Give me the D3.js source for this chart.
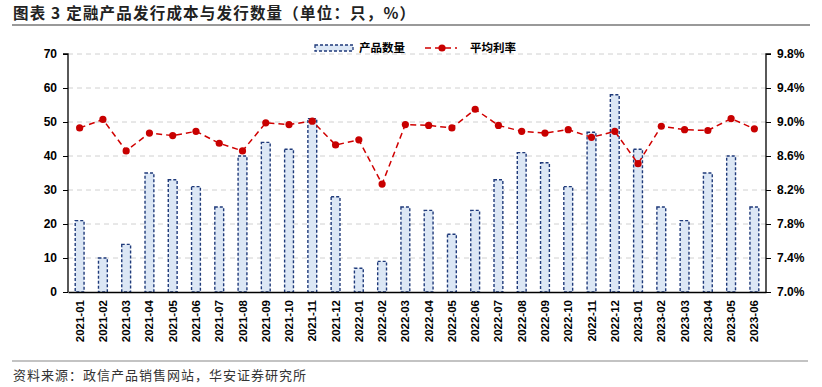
<!DOCTYPE html>
<html>
<head>
<meta charset="utf-8">
<script src="https://cdn.jsdelivr.net/npm/d3@7/dist/d3.min.js"></script>
<style>
  body { margin: 0; background: #fff; }
  svg { font-family: "Liberation Sans", Arial, sans-serif; }
</style>
</head>
<body>
<svg id="chart" width="822" height="387"></svg>
<script>
const months = ["2021-01","2021-02","2021-03","2021-04","2021-05","2021-06","2021-07","2021-08","2021-09","2021-10","2021-11","2021-12",
  "2022-01","2022-02","2022-03","2022-04","2022-05","2022-06","2022-07","2022-08","2022-09","2022-10","2022-11","2022-12",
  "2023-01","2023-02","2023-03","2023-04","2023-05","2023-06"];
const counts = [21,10,14,35,33,31,25,40,44,42,51,28,7,9,25,24,17,24,33,41,38,31,47,58,42,25,21,35,40,25];
const rates = [8.93,9.03,8.66,8.87,8.84,8.89,8.75,8.66,8.99,8.97,9.01,8.73,8.79,8.27,8.97,8.96,8.93,9.15,8.96,8.89,8.87,8.91,8.82,8.89,8.51,8.95,8.91,8.90,9.04,8.92];
const leftTicks = [0,10,20,30,40,50,60,70];
const rightTicks = [7.0,7.4,7.8,8.2,8.6,9.0,9.4,9.8];

const svg = d3.select("#chart");
const pLeft = 68, pRight = 766, pTop = 54, pBottom = 292;
const cjk = "'Noto Sans CJK SC', sans-serif";

// title
svg.append("text").attr("x", 13).attr("y", 19)
  .style("font-family", cjk).style("font-size", "15.5px").style("font-weight", "bold")
  .style("letter-spacing", "1.2px").attr("fill", "#222")
  .text("图表 3 定融产品发行成本与发行数量（单位：只，%）");
svg.append("line").attr("x1", 12).attr("x2", 810).attr("y1", 25).attr("y2", 25).attr("stroke", "#777").attr("stroke-width", 1.5);

const x = d3.scaleBand().domain(months).range([pLeft, pRight]).paddingInner(0.62).paddingOuter(0.31);
const yL = d3.scaleLinear().domain([0, 70]).range([pBottom, pTop]);
const yR = d3.scaleLinear().domain([7.0, 9.8]).range([pBottom, pTop]);

// grid
svg.append("g").selectAll("line").data(leftTicks.slice(1)).enter().append("line")
  .attr("x1", pLeft).attr("x2", pRight).attr("y1", d => yL(d)).attr("y2", d => yL(d))
  .attr("stroke", "#d0d0d0").attr("stroke-dasharray", "5,4");

// bars
svg.append("g").selectAll("rect").data(counts).enter().append("rect")
  .attr("x", (d, i) => x(months[i])).attr("width", x.bandwidth())
  .attr("y", d => yL(d)).attr("height", d => pBottom - yL(d))
  .attr("fill", "#dce7f5").attr("stroke", "#1f3a7a").attr("stroke-width", 1.4).attr("stroke-dasharray", "3,2");

// axes
const axL = svg.append("g").attr("transform", `translate(${pLeft},0)`)
  .call(d3.axisLeft(yL).tickValues(leftTicks).tickSize(5).tickPadding(6));
const axR = svg.append("g").attr("transform", `translate(${pRight},0)`)
  .call(d3.axisRight(yR).tickValues(rightTicks).tickSize(5).tickPadding(6).tickFormat(d => d.toFixed(1) + "%"));
const axB = svg.append("g").attr("transform", `translate(0,${pBottom})`)
  .call(d3.axisBottom(x).tickSize(0).tickPadding(8));
[axL, axR, axB].forEach(a => {
  a.select(".domain").attr("stroke", "#000").attr("stroke-width", 1.3);
  a.selectAll(".tick line").attr("stroke", "#000");
  a.selectAll("text").style("font-size", "12px").style("font-weight", "bold").attr("fill", "#000");
});
axL.select(".domain").attr("d", `M-5,${pTop}H0V${pBottom}`);
axR.select(".domain").attr("d", `M5,${pTop}H0V${pBottom}`);
axB.selectAll("text").style("font-size", "11.5px")
  .attr("transform", "rotate(-90)").attr("text-anchor", "end").attr("dy", "0.35em").attr("x", -8).attr("y", 0);

// line
const line = d3.line().x((d, i) => x(months[i]) + x.bandwidth() / 2).y(d => yR(d));
svg.append("path").datum(rates).attr("d", line).attr("fill", "none")
  .attr("stroke", "#d00000").attr("stroke-width", 1.5).attr("stroke-dasharray", "6,4");
svg.append("g").selectAll("circle").data(rates).enter().append("circle")
  .attr("cx", (d, i) => x(months[i]) + x.bandwidth() / 2).attr("cy", d => yR(d)).attr("r", 3.6).attr("fill", "#c80000");

// legend
const lg = svg.append("g");
lg.append("rect").attr("x", 315).attr("y", 45).attr("width", 38).attr("height", 6)
  .attr("fill", "#dce7f5").attr("stroke", "#1f3a7a").attr("stroke-width", 1.3).attr("stroke-dasharray", "3,2");
lg.append("text").attr("x", 359).attr("y", 52).style("font-family", cjk).style("font-size", "11.5px").style("font-weight", "bold").text("产品数量");
lg.append("line").attr("x1", 425).attr("x2", 457).attr("y1", 48).attr("y2", 48)
  .attr("stroke", "#d00000").attr("stroke-width", 1.5).attr("stroke-dasharray", "6,4");
lg.append("circle").attr("cx", 442).attr("cy", 48).attr("r", 3.6).attr("fill", "#c80000");
lg.append("text").attr("x", 470).attr("y", 52).style("font-family", cjk).style("font-size", "11.5px").style("font-weight", "bold").text("平均利率");

// source
svg.append("line").attr("x1", 12).attr("x2", 808).attr("y1", 361).attr("y2", 361).attr("stroke", "#888").attr("stroke-width", 1.2);
svg.append("text").attr("x", 13).attr("y", 380).style("font-family", cjk).style("font-size", "13px")
  .style("letter-spacing", "1px").attr("fill", "#333")
  .text("资料来源：政信产品销售网站，华安证券研究所");
</script>
</body>
</html>
